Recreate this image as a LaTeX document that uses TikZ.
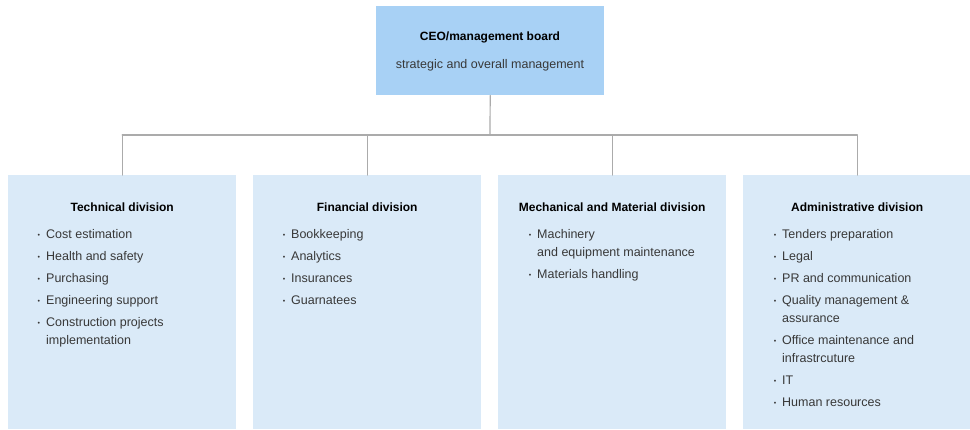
\documentclass[tikz,border=0pt]{standalone}
\usepackage{fontspec}
\setmainfont{Liberation Sans}
\usetikzlibrary{positioning}
\definecolor{ceoblue}{HTML}{A8D1F5}
\definecolor{divblue}{HTML}{DAEAF8}
\definecolor{linegray}{HTML}{ABABAB}
\definecolor{txtgray}{HTML}{383838}
\newcommand{\itm}{\llap{\raisebox{1pt}{\fontsize{7}{7}\selectfont •}\hspace{6pt}}}
\begin{document}
\begin{tikzpicture}[x=1pt, y=-1pt, line join=round, line cap=round,
	ceobox/.style={fill=ceoblue, minimum width=228pt, minimum height=89pt, inner sep=0pt, anchor=north west},
	divbox/.style={fill=divblue, minimum width=228pt, minimum height=254pt, inner sep=0pt, anchor=north west},
	head/.style={font=\fontsize{12}{14}\selectfont\bfseries, text=black, inner sep=0pt, anchor=base},
	sub/.style={font=\fontsize{12.5}{15}\selectfont, text=txtgray, inner sep=0pt, anchor=base},
	list/.style={font=\fontsize{12.5}{18}\selectfont, text=txtgray, align=left, inner sep=0pt, anchor=north west},
	link/.style={draw=linegray, line width=1.2pt}]
	\useasboundingbox (0,0) rectangle (970,429);
	% top box
	\node[ceobox] (ceo) at (376,6) {};
	\node[head] (ceot) at (490,40.5) {CEO/management board};
	\node[sub] (ceos) at (490,68.5) {strategic and overall management};
	% divisions
	\node[divbox] (tech) at (8,175) {};
	\node[divbox] (fin) at (253,175) {};
	\node[divbox] (mech) at (498,175) {};
	\node[divbox] (admin) at (743,175) {};
	\node[head] (techt) at (tech.center |- 0,211.5) {Technical division};
	\node[head] (fint) at (fin.center |- 0,211.5) {Financial division};
	\node[head] (mecht) at (mech.center |- 0,211.5) {Mechanical and Material division};
	\node[head] (admint) at (admin.center |- 0,211.5) {Administrative division};
	\node[list] (techl) at (46,229) {\itm Cost estimation\\[4pt]
		\itm Health and safety\\[4pt]
		\itm Purchasing\\[4pt]
		\itm Engineering support\\[4pt]
		\itm Construction projects\\implementation};
	\node[list] (finl) at (291,229) {\itm Bookkeeping\\[4pt]
		\itm Analytics\\[4pt]
		\itm Insurances\\[4pt]
		\itm Guarnatees};
	\node[list] (mechl) at (537,229) {\itm Machinery\\and equipment maintenance\\[4pt]
		\itm Materials handling};
	\node[list] (adminl) at (782,229) {\itm Tenders preparation\\[4pt]
		\itm Legal\\[4pt]
		\itm PR and communication\\[4pt]
		\itm Quality management \&\\assurance\\[4pt]
		\itm Office maintenance and\\infrastrcuture\\[4pt]
		\itm IT\\[4pt]
		\itm Human resources};
	% connectors
	\draw[link] (ceo.south) -- (490,135) coordinate (bus);
	\draw[link] (tech.north |- bus) -- (admin.north |- bus);
	\foreach \d in {tech,fin,mech,admin}
		\draw[link] (\d.north |- bus) -- (\d.north);
\end{tikzpicture}
\end{document}
